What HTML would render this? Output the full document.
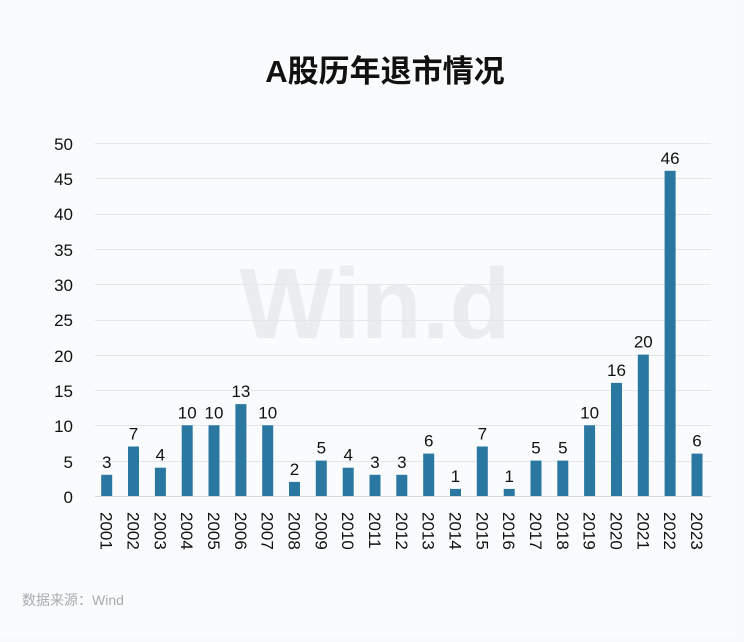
<!DOCTYPE html>
<html><head><meta charset="utf-8"><style>
body{margin:0;background:#fff;}
svg{display:block}
</style></head><body>
<svg width="744" height="642" xmlns="http://www.w3.org/2000/svg" font-family="Liberation Sans, Noto Sans CJK SC, sans-serif">
<rect x="0" y="0" width="744" height="642" fill="#f7f9fb"/>
<rect x="0" y="0" width="736" height="636" fill="#f9fbfd"/>
<text x="385" y="82" font-size="31" font-weight="bold" text-anchor="middle" fill="#111">A股历年退市情况</text>
<text x="375" y="338" font-size="100" font-weight="bold" text-anchor="middle" fill="#eaecee">Win.d</text>
<g stroke="#e3e7ea" stroke-width="1">
<line x1="95" x2="711" y1="143.5" y2="143.5"/><line x1="95" x2="711" y1="178.5" y2="178.5"/>
<line x1="95" x2="711" y1="214.5" y2="214.5"/><line x1="95" x2="711" y1="249.5" y2="249.5"/>
<line x1="95" x2="711" y1="284.5" y2="284.5"/><line x1="95" x2="711" y1="320.5" y2="320.5"/>
<line x1="95" x2="711" y1="355.5" y2="355.5"/><line x1="95" x2="711" y1="390.5" y2="390.5"/>
<line x1="95" x2="711" y1="425.5" y2="425.5"/><line x1="95" x2="711" y1="461.5" y2="461.5"/>
</g>
<line x1="95" x2="711" y1="496.5" y2="496.5" stroke="#d6dadd"/>
<g font-size="17" fill="#111" text-anchor="end">
<text x="73" y="150">50</text><text x="73" y="185">45</text><text x="73" y="220">40</text>
<text x="73" y="256">35</text><text x="73" y="291">30</text><text x="73" y="326">25</text>
<text x="73" y="362">20</text><text x="73" y="397">15</text><text x="73" y="432">10</text>
<text x="73" y="468">5</text><text x="73" y="503">0</text>
</g>
<g fill="#2a77a2">
<rect x="101.2" y="474.8" width="11" height="21.2"/>
<rect x="128.0" y="446.5" width="11" height="49.5"/>
<rect x="154.9" y="467.7" width="11" height="28.3"/>
<rect x="181.7" y="425.3" width="11" height="70.7"/>
<rect x="208.5" y="425.3" width="11" height="70.7"/>
<rect x="235.4" y="404.1" width="11" height="91.9"/>
<rect x="262.2" y="425.3" width="11" height="70.7"/>
<rect x="289.0" y="481.9" width="11" height="14.1"/>
<rect x="315.8" y="460.6" width="11" height="35.4"/>
<rect x="342.7" y="467.7" width="11" height="28.3"/>
<rect x="369.5" y="474.8" width="11" height="21.2"/>
<rect x="396.3" y="474.8" width="11" height="21.2"/>
<rect x="423.2" y="453.6" width="11" height="42.4"/>
<rect x="450.0" y="488.9" width="11" height="7.1"/>
<rect x="476.8" y="446.5" width="11" height="49.5"/>
<rect x="503.7" y="488.9" width="11" height="7.1"/>
<rect x="530.5" y="460.6" width="11" height="35.4"/>
<rect x="557.3" y="460.6" width="11" height="35.4"/>
<rect x="584.1" y="425.3" width="11" height="70.7"/>
<rect x="611.0" y="382.9" width="11" height="113.1"/>
<rect x="637.8" y="354.6" width="11" height="141.4"/>
<rect x="664.6" y="170.8" width="11" height="325.2"/>
<rect x="691.5" y="453.6" width="11" height="42.4"/>
</g>
<g font-size="17" fill="#111" text-anchor="middle">
<text x="106.7" y="467.8">3</text>
<text x="133.5" y="439.5">7</text>
<text x="160.4" y="460.7">4</text>
<text x="187.2" y="418.3">10</text>
<text x="214.0" y="418.3">10</text>
<text x="240.9" y="397.1">13</text>
<text x="267.7" y="418.3">10</text>
<text x="294.5" y="474.9">2</text>
<text x="321.3" y="453.6">5</text>
<text x="348.2" y="460.7">4</text>
<text x="375.0" y="467.8">3</text>
<text x="401.8" y="467.8">3</text>
<text x="428.7" y="446.6">6</text>
<text x="455.5" y="481.9">1</text>
<text x="482.3" y="439.5">7</text>
<text x="509.2" y="481.9">1</text>
<text x="536.0" y="453.6">5</text>
<text x="562.8" y="453.6">5</text>
<text x="589.6" y="418.3">10</text>
<text x="616.5" y="375.9">16</text>
<text x="643.3" y="347.6">20</text>
<text x="670.1" y="163.8">46</text>
<text x="697.0" y="446.6">6</text>
</g>
<g font-size="17" fill="#111">
<text transform="translate(100.7,512) rotate(90)">2001</text>
<text transform="translate(127.5,512) rotate(90)">2002</text>
<text transform="translate(154.4,512) rotate(90)">2003</text>
<text transform="translate(181.2,512) rotate(90)">2004</text>
<text transform="translate(208.0,512) rotate(90)">2005</text>
<text transform="translate(234.9,512) rotate(90)">2006</text>
<text transform="translate(261.7,512) rotate(90)">2007</text>
<text transform="translate(288.5,512) rotate(90)">2008</text>
<text transform="translate(315.3,512) rotate(90)">2009</text>
<text transform="translate(342.2,512) rotate(90)">2010</text>
<text transform="translate(369.0,512) rotate(90)">2011</text>
<text transform="translate(395.8,512) rotate(90)">2012</text>
<text transform="translate(422.7,512) rotate(90)">2013</text>
<text transform="translate(449.5,512) rotate(90)">2014</text>
<text transform="translate(476.3,512) rotate(90)">2015</text>
<text transform="translate(503.2,512) rotate(90)">2016</text>
<text transform="translate(530.0,512) rotate(90)">2017</text>
<text transform="translate(556.8,512) rotate(90)">2018</text>
<text transform="translate(583.6,512) rotate(90)">2019</text>
<text transform="translate(610.5,512) rotate(90)">2020</text>
<text transform="translate(637.3,512) rotate(90)">2021</text>
<text transform="translate(664.1,512) rotate(90)">2022</text>
<text transform="translate(691.0,512) rotate(90)">2023</text>
</g>
<text x="22" y="605" font-size="14" fill="#a9acaf">数据来源：Wind</text>
</svg>
</body></html>
